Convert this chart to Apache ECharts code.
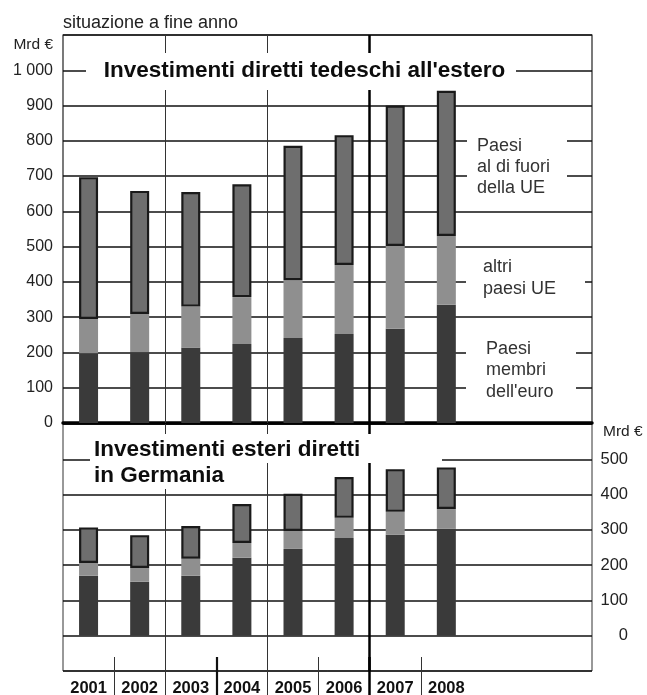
<!DOCTYPE html>
<html>
<head>
<meta charset="utf-8">
<script src="https://cdn.jsdelivr.net/npm/echarts@6/dist/echarts.min.js"></script>
<style>
  html, body { margin: 0; padding: 0; background: #fff; }
  #chart { width: 647px; height: 695px; }
</style>
</head>
<body>
<div id="chart"></div>
<script>
// data (Mrd euro, year end)
var years = ['2001', '2002', '2003', '2004', '2005', '2006', '2007', '2008'];

// German direct investment abroad
var outEuro    = [198, 201, 213, 224, 241, 252, 267, 335];
var outOtherEU = [97, 108, 117, 133, 164, 196, 235, 195];
var outNonEU   = [402, 349, 325, 320, 381, 368, 398, 412];

// foreign direct investment in Germany
var inEuro    = [170, 153, 170, 221, 246, 277, 286, 303];
var inOtherEU = [36, 39, 48, 42, 51, 57, 65, 56];
var inNonEU   = [101, 93, 93, 110, 105, 116, 121, 118];

var FONT = "'Liberation Sans', Arial, Helvetica, sans-serif";
var DARK = '#3a3a3a', LIGHT = '#8f8f8f', MID = '#6e6e6e';

// value first, year index second, so the stack runs on y
function pairs(vals) {
  var out = [], i;
  for (i = 0; i < vals.length; i++) out.push([vals[i], i]);
  return out;
}

function bar(name, vals, color, gi, stack, border) {
  var s = {
    name: name,
    type: 'bar',
    xAxisIndex: gi,
    yAxisIndex: gi,
    stack: stack,
    barWidth: 19,
    encode: { x: 1, y: 0 },
    data: pairs(vals),
    itemStyle: { color: color },
    silent: true
  };
  if (border) {
    s.itemStyle.borderColor = '#1a1a1a';
    s.itemStyle.borderWidth = 2.2;
  }
  return s;
}

function vlines(list) {
  return {
    silent: true,
    symbol: ['none', 'none'],
    label: { show: false },
    animation: false,
    data: list.map(function (d) {
      return { xAxis: d[0], lineStyle: { color: d[2] || '#333', width: d[1], type: 'solid' } };
    })
  };
}

function xAxisFor(gi, labels) {
  return {
    type: 'value',
    gridIndex: gi,
    min: -0.5,
    max: 9.85,
    interval: 0.5,
    show: gi !== 2,
    splitLine: { show: false },
    axisTick: { show: false },
    axisLine: gi === 0
      ? { show: true, onZero: true, lineStyle: { color: '#000', width: 3.5 } }
      : { show: false, onZero: false },
    axisLabel: labels ? {
      show: true,
      margin: 9,
      fontFamily: FONT,
      fontSize: 16.5,
      fontWeight: 'bold',
      color: '#111',
      formatter: function (v) {
        var r = Math.round(v);
        if (Math.abs(v - r) < 1e-6 && r >= 0 && r < years.length) return years[r];
        return '';
      }
    } : { show: false }
  };
}

var chart = echarts.init(document.getElementById('chart'), null, { renderer: 'canvas' });

var gridLine = { show: true, lineStyle: { color: '#111', width: 1.7 } };

var option = {
  animation: false,
  backgroundColor: '#fff',
  title: {
    text: 'situazione a fine anno',
    left: 58,
    top: 9,
    textStyle: { fontFamily: FONT, fontSize: 18, fontWeight: 'normal', color: '#222' }
  },
  grid: [
    { left: 63, top: 35, width: 529, height: 388, show: true, borderColor: '#222', borderWidth: 1.2, outerBoundsMode: 'none' },
    { left: 63, top: 424, width: 529, height: 247, show: true, borderColor: '#333', borderWidth: 1, outerBoundsMode: 'none' },
    { left: 63, top: 657, width: 529, height: 50, show: false, outerBoundsMode: 'none' }
  ],
  xAxis: [xAxisFor(0, false), xAxisFor(1, true), xAxisFor(2, false)],
  yAxis: [
    {
      type: 'value', gridIndex: 0, position: 'left',
      min: 0, max: 1100, interval: 100,
      axisLine: { show: false }, axisTick: { show: false },
      splitLine: gridLine,
      axisLabel: {
        margin: 10, fontFamily: FONT, fontSize: 16, color: '#222',
        formatter: function (v) {
          if (v > 1000) return '';
          return v === 1000 ? '1 000' : String(v);
        }
      }
    },
    {
      type: 'value', gridIndex: 1, position: 'right',
      min: -100, max: 600, interval: 100,
      axisLine: { show: false }, axisTick: { show: false },
      splitLine: gridLine,
      axisLabel: {
        margin: 36, align: 'right', fontFamily: FONT, fontSize: 16.5, color: '#222',
        formatter: function (v) {
          return (v < 0 || v > 500) ? '' : String(v);
        }
      }
    },
    { type: 'value', gridIndex: 2, min: 0, max: 1, show: false }
  ],
  series: [
    (function () {
      var s = bar('Paesi membri dell\'euro', outEuro, DARK, 0, 'out', false);
      s.markLine = vlines([[1.5, 1], [3.5, 1], [5.5, 2.5, '#000']]);
      return s;
    })(),
    bar('altri paesi UE', outOtherEU, LIGHT, 0, 'out', false),
    bar('Paesi al di fuori della UE', outNonEU, MID, 0, 'out', true),
    (function () {
      var s = bar('Paesi membri dell\'euro', inEuro, DARK, 1, 'in', false);
      s.markLine = vlines([[1.5, 1], [3.5, 1], [5.5, 2.5, '#000']]);
      return s;
    })(),
    bar('altri paesi UE', inOtherEU, LIGHT, 1, 'in', false),
    bar('Paesi al di fuori della UE', inNonEU, MID, 1, 'in', true),
    {
      type: 'line', xAxisIndex: 2, yAxisIndex: 2, data: [], silent: true,
      markLine: vlines([[0.5, 1], [1.5, 1], [2.5, 2.2, '#111'], [3.5, 1], [4.5, 1], [5.5, 2.5, '#000'], [6.5, 1]])
    }
  ],
  graphic: [
    // white boxes that break the grid lines behind the texts
    { type: 'rect', z: 100, silent: true, shape: { x: 86, y: 53, width: 430, height: 37 }, style: { fill: '#fff' } },
    { type: 'rect', z: 100, silent: true, shape: { x: 90, y: 434, width: 352, height: 29 }, style: { fill: '#fff' } },
    { type: 'rect', z: 100, silent: true, shape: { x: 90, y: 463, width: 150, height: 26 }, style: { fill: '#fff' } },
    { type: 'rect', z: 100, silent: true, shape: { x: 467, y: 133, width: 100, height: 66 }, style: { fill: '#fff' } },
    { type: 'rect', z: 100, silent: true, shape: { x: 466, y: 256, width: 119, height: 44 }, style: { fill: '#fff' } },
    { type: 'rect', z: 100, silent: true, shape: { x: 466, y: 337, width: 110, height: 66 }, style: { fill: '#fff' } },

    // unit labels of the two value axes
    { type: 'text', z: 101, silent: true, x: 53, y: 45,
      style: { text: 'Mrd €', font: '15.5px ' + FONT, fill: '#222',
               textAlign: 'right', textVerticalAlign: 'middle', align: 'right', verticalAlign: 'middle' } },
    { type: 'text', z: 101, silent: true, x: 603, y: 432,
      style: { text: 'Mrd €', font: '15.5px ' + FONT, fill: '#222',
               textAlign: 'left', textVerticalAlign: 'middle', align: 'left', verticalAlign: 'middle' } },

    { type: 'text', z: 101, silent: true, x: 304.5, y: 71,
      style: { text: 'Investimenti diretti tedeschi all\'estero', font: 'bold 22.5px ' + FONT, fill: '#0d0d0d',
               textAlign: 'center', textVerticalAlign: 'middle', align: 'center', verticalAlign: 'middle' } },
    { type: 'text', z: 101, silent: true, x: 94, y: 437,
      style: { text: 'Investimenti esteri diretti\nin Germania', font: 'bold 22.5px ' + FONT, fill: '#0d0d0d', lineHeight: 26,
               textAlign: 'left', textVerticalAlign: 'top', align: 'left', verticalAlign: 'top' } },
    { type: 'text', z: 101, silent: true, x: 477, y: 135.5,
      style: { text: 'Paesi\nal di fuori\ndella UE', font: '18px ' + FONT, fill: '#333', lineHeight: 21,
               textAlign: 'left', textVerticalAlign: 'top', align: 'left', verticalAlign: 'top' } },
    { type: 'text', z: 101, silent: true, x: 483, y: 256,
      style: { text: 'altri\npaesi UE', font: '18px ' + FONT, fill: '#333', lineHeight: 22,
               textAlign: 'left', textVerticalAlign: 'top', align: 'left', verticalAlign: 'top' } },
    { type: 'text', z: 101, silent: true, x: 486, y: 338,
      style: { text: 'Paesi\nmembri\ndell\'euro', font: '18px ' + FONT, fill: '#333', lineHeight: 21.5,
               textAlign: 'left', textVerticalAlign: 'top', align: 'left', verticalAlign: 'top' } }
  ]
};

chart.setOption(option);
</script>
</body>
</html>
